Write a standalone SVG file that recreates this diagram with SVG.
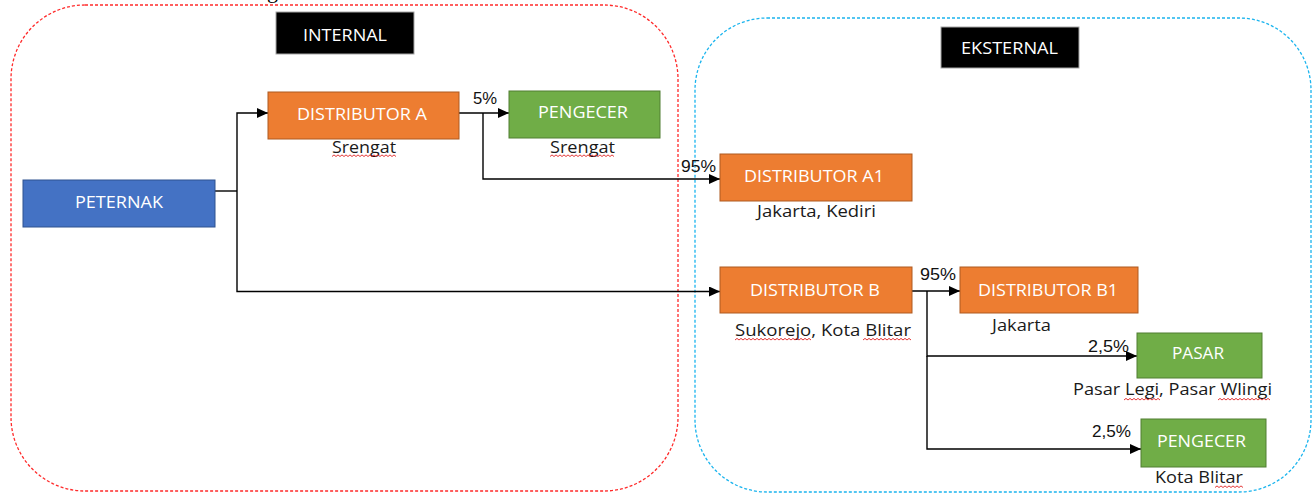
<svg xmlns="http://www.w3.org/2000/svg" width="1315" height="494" viewBox="0 0 1315 494">
  <style>
    .zone-int { fill: none; stroke: #ff2a2a; stroke-width: 1.3; stroke-dasharray: 3 2; }
    .zone-ext { fill: none; stroke: #1ab4ee; stroke-width: 1.3; stroke-dasharray: 3 2; }
    .tag { fill: #000; stroke: #a6a6a6; stroke-width: 1; }
    .orange { fill: #ed7d31; stroke: #ae5a21; stroke-width: 1; }
    .green { fill: #70ad47; stroke: #507e32; stroke-width: 1; }
    .blue { fill: #4472c4; stroke: #2f528f; stroke-width: 1; }
    .lbl { font-family: "Open Sans", "Noto Sans", "Liberation Sans", sans-serif; font-size: 16px; fill: #fff; text-anchor: start; }
    .cap { font-family: "Open Sans", "Noto Sans", "Liberation Sans", sans-serif; font-size: 16px; fill: #1a1a1a; }
    .pct { font-family: "Liberation Sans", "Open Sans", sans-serif; font-size: 16px; fill: #111; }
    .wire { fill: none; stroke: #000; stroke-width: 1.4; }
    .squiggle { fill: none; stroke: #e02020; stroke-width: 0.9; }
  </style>
  <defs>
    <marker id="arrow" markerUnits="userSpaceOnUse" markerWidth="11" markerHeight="10" refX="11" refY="5" orient="auto">
      <path d="M0,0 L11,5 L0,10 z" fill="#000"/>
    </marker>
  </defs>

  <rect width="1315" height="494" fill="#fff"/>

  <!-- caption line above, cut at the top edge -->
  <text x="267" y="-2" font-family="Liberation Serif, serif" font-size="22" fill="#000">g</text>

  <!-- zones -->
  <g id="zone-internal">
    <rect class="zone-int" x="11" y="5" width="667" height="486" rx="74" ry="74"/>
    <rect class="tag" x="276" y="12" width="138" height="42"/>
    <text class="lbl" x="303" y="41" textLength="84" lengthAdjust="spacingAndGlyphs">INTERNAL</text>
  </g>
  <g id="zone-eksternal">
    <rect class="zone-ext" x="695" y="18" width="616" height="474" rx="72" ry="72"/>
    <rect class="tag" x="941" y="27" width="138" height="41"/>
    <text class="lbl" x="961" y="54" textLength="97" lengthAdjust="spacingAndGlyphs">EKSTERNAL</text>
  </g>

  <!-- connectors -->
  <g id="connectors">
    <path class="wire" d="M215,191 H237"/>
    <path class="wire" d="M237,191 V113 H268" marker-end="url(#arrow)"/>
    <path class="wire" d="M237,191 V291.5 H720" marker-end="url(#arrow)"/>
    <path class="wire" d="M459,113 H509" marker-end="url(#arrow)"/>
    <path class="wire" d="M483,113 V179 H720" marker-end="url(#arrow)"/>
    <path class="wire" d="M912,291 H960" marker-end="url(#arrow)"/>
    <path class="wire" d="M927,291 V356 H1137" marker-end="url(#arrow)"/>
    <path class="wire" d="M927,356 V449 H1141" marker-end="url(#arrow)"/>
    <text class="pct" x="473" y="104" textLength="24" lengthAdjust="spacingAndGlyphs">5%</text>
    <text class="pct" x="681" y="172" textLength="35" lengthAdjust="spacingAndGlyphs">95%</text>
    <text class="pct" x="920" y="280" textLength="36" lengthAdjust="spacingAndGlyphs">95%</text>
    <text class="pct" x="1088" y="352" textLength="41" lengthAdjust="spacingAndGlyphs">2,5%</text>
    <text class="pct" x="1092" y="437" textLength="39" lengthAdjust="spacingAndGlyphs">2,5%</text>
  </g>

  <!-- nodes -->
  <g id="peternak">
    <rect class="blue" x="23" y="180" width="192" height="47"/>
    <text class="lbl" x="75" y="208" textLength="88" lengthAdjust="spacingAndGlyphs">PETERNAK</text>
  </g>

  <g id="distributor-a">
    <rect class="orange" x="268" y="92" width="191" height="47"/>
    <text class="lbl" x="297" y="120" textLength="130" lengthAdjust="spacingAndGlyphs">DISTRIBUTOR A</text>
    <text class="cap" x="332" y="153" textLength="64" lengthAdjust="spacingAndGlyphs">Srengat</text>
    <path class="squiggle" d="M332,156.5 l2,-1.6 2,1.6 2,-1.6 2,1.6 2,-1.6 2,1.6 2,-1.6 2,1.6 2,-1.6 2,1.6 2,-1.6 2,1.6 2,-1.6 2,1.6 2,-1.6 2,1.6 2,-1.6 2,1.6 2,-1.6 2,1.6 2,-1.6 2,1.6 2,-1.6 2,1.6 2,-1.6 2,1.6 2,-1.6 2,1.6 2,-1.6 2,1.6 2,-1.6 2,1.6"/>
  </g>

  <g id="pengecer-srengat">
    <rect class="green" x="509" y="91" width="151" height="47"/>
    <text class="lbl" x="538" y="118" textLength="90" lengthAdjust="spacingAndGlyphs">PENGECER</text>
    <text class="cap" x="550" y="153" textLength="65" lengthAdjust="spacingAndGlyphs">Srengat</text>
    <path class="squiggle" d="M550,156.5 l2,-1.6 2,1.6 2,-1.6 2,1.6 2,-1.6 2,1.6 2,-1.6 2,1.6 2,-1.6 2,1.6 2,-1.6 2,1.6 2,-1.6 2,1.6 2,-1.6 2,1.6 2,-1.6 2,1.6 2,-1.6 2,1.6 2,-1.6 2,1.6 2,-1.6 2,1.6 2,-1.6 2,1.6 2,-1.6 2,1.6 2,-1.6 2,1.6 2,-1.6 2,1.6"/>
  </g>

  <g id="distributor-a1">
    <rect class="orange" x="720" y="154" width="192" height="47"/>
    <text class="lbl" x="744" y="182" textLength="140" lengthAdjust="spacingAndGlyphs">DISTRIBUTOR A1</text>
    <text class="cap" x="757" y="217" textLength="119" lengthAdjust="spacingAndGlyphs">Jakarta, Kediri</text>
  </g>

  <g id="distributor-b">
    <rect class="orange" x="720" y="267" width="192" height="46"/>
    <text class="lbl" x="750" y="296" textLength="130" lengthAdjust="spacingAndGlyphs">DISTRIBUTOR B</text>
    <text class="cap" x="735" y="336" textLength="176" lengthAdjust="spacingAndGlyphs">Sukorejo, Kota Blitar</text>
    <path class="squiggle" d="M735,340 l2,-1.6 2,1.6 2,-1.6 2,1.6 2,-1.6 2,1.6 2,-1.6 2,1.6 2,-1.6 2,1.6 2,-1.6 2,1.6 2,-1.6 2,1.6 2,-1.6 2,1.6 2,-1.6 2,1.6 2,-1.6 2,1.6 2,-1.6 2,1.6 2,-1.6 2,1.6 2,-1.6 2,1.6 2,-1.6 2,1.6 2,-1.6 2,1.6 2,-1.6 2,1.6 2,-1.6 2,1.6 2,-1.6 2,1.6 2,-1.6 2,1.6"/>
    <path class="squiggle" d="M863,340 l2,-1.6 2,1.6 2,-1.6 2,1.6 2,-1.6 2,1.6 2,-1.6 2,1.6 2,-1.6 2,1.6 2,-1.6 2,1.6 2,-1.6 2,1.6 2,-1.6 2,1.6 2,-1.6 2,1.6 2,-1.6 2,1.6 2,-1.6 2,1.6 2,-1.6 2,1.6"/>
  </g>

  <g id="distributor-b1">
    <rect class="orange" x="960" y="267" width="178" height="46"/>
    <text class="lbl" x="978" y="296" textLength="140" lengthAdjust="spacingAndGlyphs">DISTRIBUTOR B1</text>
    <text class="cap" x="992" y="331" textLength="59" lengthAdjust="spacingAndGlyphs">Jakarta</text>
  </g>

  <g id="pasar">
    <rect class="green" x="1137" y="333" width="125" height="45"/>
    <text class="lbl" x="1172" y="359" textLength="52" lengthAdjust="spacingAndGlyphs">PASAR</text>
    <text class="cap" x="1073" y="395" textLength="199" lengthAdjust="spacingAndGlyphs">Pasar Legi, Pasar Wlingi</text>
    <path class="squiggle" d="M1124,400 l2,-1.6 2,1.6 2,-1.6 2,1.6 2,-1.6 2,1.6 2,-1.6 2,1.6 2,-1.6 2,1.6 2,-1.6 2,1.6 2,-1.6 2,1.6 2,-1.6 2,1.6 2,-1.6 2,1.6"/>
    <path class="squiggle" d="M1218,400 l2,-1.6 2,1.6 2,-1.6 2,1.6 2,-1.6 2,1.6 2,-1.6 2,1.6 2,-1.6 2,1.6 2,-1.6 2,1.6 2,-1.6 2,1.6 2,-1.6 2,1.6 2,-1.6 2,1.6 2,-1.6 2,1.6 2,-1.6 2,1.6 2,-1.6 2,1.6 2,-1.6 2,1.6"/>
  </g>

  <g id="pengecer-blitar">
    <rect class="green" x="1141" y="419" width="125" height="48"/>
    <text class="lbl" x="1157" y="447" textLength="89" lengthAdjust="spacingAndGlyphs">PENGECER</text>
    <text class="cap" x="1155" y="483" textLength="88" lengthAdjust="spacingAndGlyphs">Kota Blitar</text>
    <path class="squiggle" d="M1215,487.5 l2,-1.6 2,1.6 2,-1.6 2,1.6 2,-1.6 2,1.6 2,-1.6 2,1.6 2,-1.6 2,1.6 2,-1.6 2,1.6 2,-1.6 2,1.6"/>
  </g>
</svg>
